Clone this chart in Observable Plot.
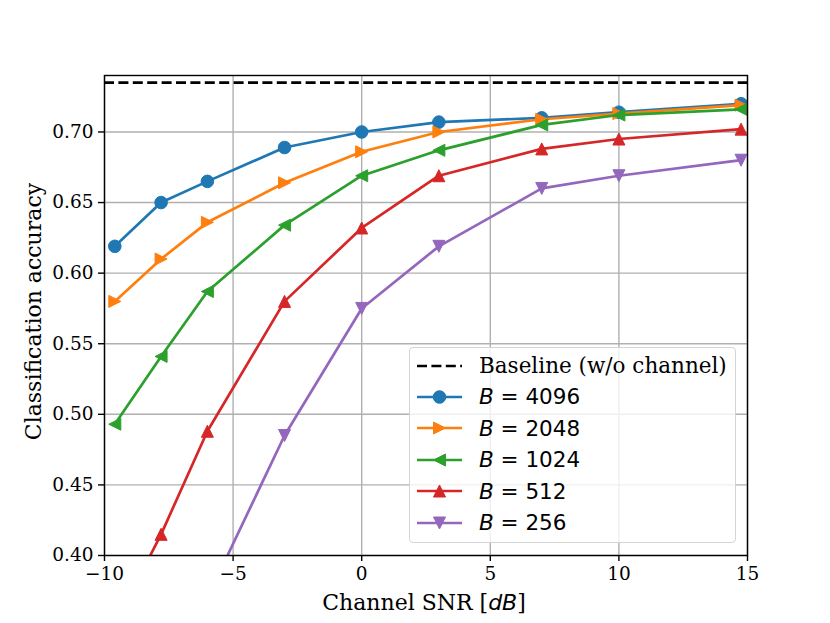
<!DOCTYPE html>
<html>
<head>
<meta charset="utf-8">
<script src="https://cdn.jsdelivr.net/npm/d3@7"></script>
<script src="https://cdn.jsdelivr.net/npm/@observablehq/plot@0.6"></script>
<style>
  body { margin: 0; background: #fff; }
  #wrap { position: relative; width: 830px; height: 623px; }
  .legend {
    position: absolute; left: 409px; top: 347px; width: 327px; height: 196px;
    box-sizing: border-box; border: 1px solid #d4d4d4; border-radius: 4px;
    background: rgba(255,255,255,0.8); padding-top: 2px;
  }
  .row { height: 31.4px; position: relative; }
  .row svg { position: absolute; left: 7px; top: 5.7px; }
  .row .lab { position: absolute; left: 69px; white-space: nowrap; line-height: 31.4px; top: 0; font-size: 21.5px; color: #000; }
  .serif { font-family: "DejaVu Serif", serif; }
  .sans { font-family: "DejaVu Sans", sans-serif; }
</style>
</head>
<body>
<div id="wrap"></div>
<script>
// ---- data ----
const snr = [-9.6, -7.8, -6, -3, 0, 3, 7, 10, 14.75];
const seriesNames = ["4096", "2048", "1024", "512", "256"];
const acc4096 = [0.619, 0.650, 0.665, 0.689, 0.700, 0.707, 0.710, 0.714, 0.720];
const acc2048 = [0.580, 0.610, 0.636, 0.664, 0.686, 0.700, 0.709, 0.713, 0.719];
const acc1024 = [0.493, 0.541, 0.587, 0.634, 0.669, 0.687, 0.705, 0.712, 0.716];
const acc512  = [0.351, 0.415, 0.488, 0.580, 0.632, 0.669, 0.688, 0.695, 0.702];
const acc256  = [null,  null,  0.370, 0.485, 0.575, 0.619, 0.660, 0.669, 0.680];
const baseline = 0.735;
const xTicks = [-10, -5, 0, 5, 10, 15];
const yTicks = [0.40, 0.45, 0.50, 0.55, 0.60, 0.65, 0.70];

// ---- styles ----
const colors = ["#1f77b4", "#ff7f0e", "#2ca02c", "#d62728", "#9467bd"];
// matplotlib-style triangle (bounding box centred on the point)
const mplTriangle = {
  draw(ctx, size) {
    const h = Math.sqrt(size / Math.PI);
    ctx.moveTo(0, -h); ctx.lineTo(h, h); ctx.lineTo(-h, h); ctx.closePath();
  }
};
const symbols = [d3.symbolCircle, mplTriangle, mplTriangle, mplTriangle, mplTriangle];
const rotations = [0, 90, -90, 0, 180];
const radii = [6.3, 6, 6, 6, 6];

const allSeries = [acc4096, acc2048, acc1024, acc512, acc256];
const rows = [];
allSeries.forEach((vals, i) => {
  vals.forEach((v, j) => {
    if (v != null) rows.push({snr: snr[j], acc: v, series: seriesNames[i]});
  });
});

const minus = d => d < 0 ? "\u2212" + Math.abs(d) : String(d);

const seriesMarks = [];
seriesNames.forEach((s, i) => {
  const data = rows.filter(d => d.series === s);
  seriesMarks.push(Plot.line(data, {x: "snr", y: "acc", stroke: colors[i], strokeWidth: 2.7, clip: true}));
  seriesMarks.push(Plot.dot(data, {x: "snr", y: "acc", fill: colors[i], stroke: colors[i], strokeWidth: 1,
    symbol: symbols[i], r: radii[i], rotate: rotations[i], clip: true}));
});

const chart = Plot.plot({
  width: 830, height: 623,
  marginLeft: 104, marginRight: 83, marginTop: 75, marginBottom: 68,
  style: {fontFamily: "DejaVu Serif", fontSize: "18.5px", color: "black", background: "white"},
  x: {domain: [-10, 15], label: null},
  y: {domain: [0.40, 0.74], label: null},
  marks: [
    Plot.gridX(xTicks, {stroke: "#b0b0b0", strokeOpacity: 1, strokeWidth: 1.4}),
    Plot.gridY(yTicks, {stroke: "#b0b0b0", strokeOpacity: 1, strokeWidth: 1.4}),
    Plot.ruleY([baseline], {stroke: "black", strokeWidth: 2.7, strokeDasharray: "10,4.4"}),
    ...seriesMarks,
    Plot.frame({stroke: "black", strokeWidth: 1.4}),
    Plot.axisX(xTicks, {tickSize: 6, tickPadding: 5, tickFormat: minus, label: null, strokeWidth: 1.4}),
    Plot.axisY(yTicks, {tickSize: 6, tickPadding: 5, tickFormat: d => d.toFixed(2), label: null, strokeWidth: 1.4})
  ]
});
document.getElementById("wrap").appendChild(chart);

// axis labels
const svg = d3.select(chart);
const xl = svg.append("text")
  .attr("x", 424).attr("y", 610)
  .attr("text-anchor", "middle")
  .style("font-family", "DejaVu Serif").style("font-size", "22px").attr("fill", "black");
xl.append("tspan").text("Channel SNR [");
xl.append("tspan").style("font-family", "DejaVu Sans").style("font-style", "italic").text("dB");
xl.append("tspan").text("]");
svg.append("text")
  .attr("transform", "translate(41,311.5) rotate(-90)")
  .attr("text-anchor", "middle")
  .style("font-family", "DejaVu Serif").style("font-size", "22px").attr("fill", "black")
  .text("Classification accuracy");

// legend
const legend = d3.select("#wrap").append("div").attr("class", "legend");
const lrow = legend.append("div").attr("class", "row");
const ls = lrow.append("svg").attr("width", 46).attr("height", 20);
ls.append("line").attr("x1", 0).attr("x2", 45).attr("y1", 10).attr("y2", 10)
  .attr("stroke", "black").attr("stroke-width", 2.7).attr("stroke-dasharray", "10,4.4");
lrow.append("span").attr("class", "lab serif").text("Baseline (w/o channel)");
seriesNames.forEach((s, i) => {
  const row = legend.append("div").attr("class", "row");
  const g = row.append("svg").attr("width", 46).attr("height", 20);
  g.append("line").attr("x1", 0).attr("x2", 45).attr("y1", 10).attr("y2", 10)
    .attr("stroke", colors[i]).attr("stroke-width", 2.7);
  g.append("path").attr("d", d3.symbol(symbols[i], Math.PI * radii[i] * radii[i])())
    .attr("transform", `translate(22.5,10) rotate(${rotations[i]})`)
    .attr("fill", colors[i]).attr("stroke", colors[i]).attr("stroke-width", 1);
  const sp = row.append("span").attr("class", "lab sans");
  sp.append("i").text("B");
  sp.append("span").text(" = " + s);
});
</script>
</body>
</html>
